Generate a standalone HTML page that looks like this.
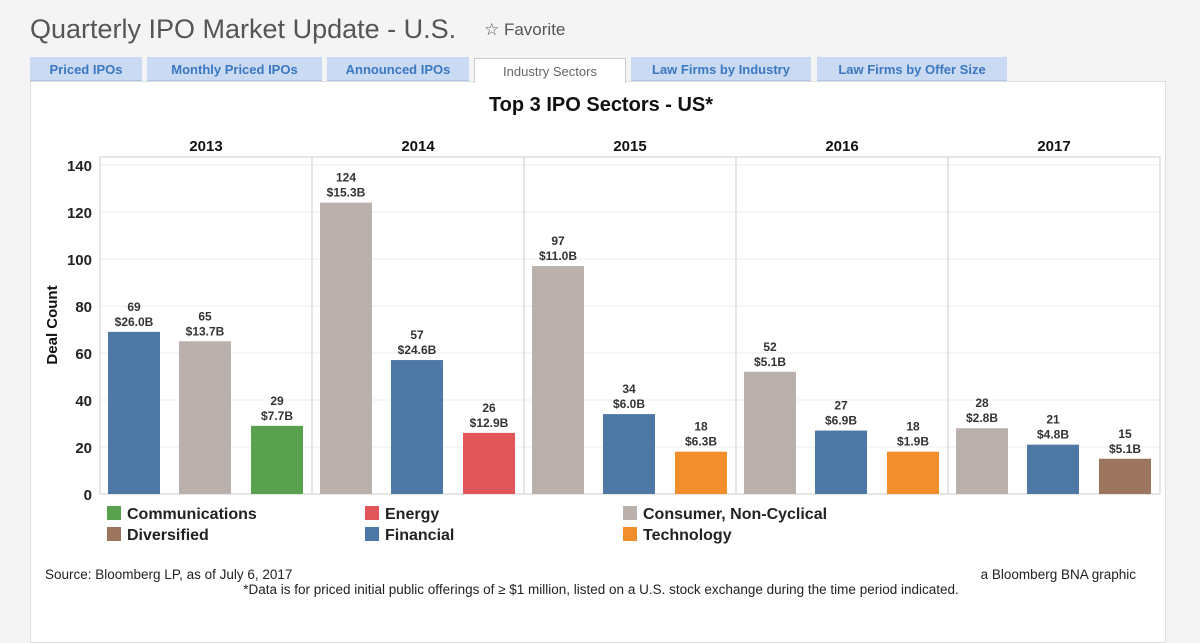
<!DOCTYPE html>
<html><head><meta charset="utf-8"><style>
body{margin:0;width:1200px;height:625px;background:#f4f4f4;font-family:"Liberation Sans",sans-serif;overflow:hidden;position:relative}
.title{position:absolute;left:30px;top:14px;font-size:27px;color:#555;font-weight:300}
.fav{position:absolute;left:484px;top:20px;font-size:17px;color:#555}
.tab{position:absolute;top:57px;height:23px;background:#c9daf2;color:#3a78c0;font-size:13px;font-weight:bold;text-align:center;line-height:25px;border-bottom:1px solid #aec6e8}
.tab.active{background:#fff;color:#666;font-weight:normal;border:1px solid #ccc;border-bottom:none;top:58px;height:24px}
.panel{position:absolute;left:30px;top:81px;width:1134px;height:560px;background:#fff;border:1px solid #ddd}
svg text{font-family:"Liberation Sans",sans-serif}
</style></head><body>
<div class="title">Quarterly IPO Market Update - U.S.</div>
<div class="fav">☆ Favorite</div>
<div class="tab" style="left:30px;width:112px">Priced IPOs</div>
<div class="tab" style="left:147px;width:175px">Monthly Priced IPOs</div>
<div class="tab" style="left:327px;width:142px">Announced IPOs</div>
<div class="tab" style="left:817px;width:190px">Law Firms by Offer Size</div>
<div class="tab" style="left:631px;width:180px">Law Firms by Industry</div>
<div class="panel"></div>
<div class="tab active" style="left:474px;width:150px">Industry Sectors</div>
<svg id="chart" width="1200" height="625" style="position:absolute;left:0;top:0"></svg>
<script>
const years=["2013","2014","2015","2016","2017"];
const sectors=[["Financial","Consumer","Communications"],["Consumer","Financial","Energy"],["Consumer","Financial","Technology"],["Consumer","Financial","Technology"],["Consumer","Financial","Diversified"]];
const counts=[[69,65,29],[124,57,26],[97,34,18],[52,27,18],[28,21,15]];
const amounts=[["$26.0B","$13.7B","$7.7B"],["$15.3B","$24.6B","$12.9B"],["$11.0B","$6.0B","$6.3B"],["$5.1B","$6.9B","$1.9B"],["$2.8B","$4.8B","$5.1B"]];
const yTicks=[0,20,40,60,80,100,120,140];
const colors={Financial:"#4e79a7",Consumer:"#bab0ac",Communications:"#59a14f",Energy:"#e15759",Technology:"#f28e2b",Diversified:"#9c755f"};
const NS="http://www.w3.org/2000/svg",svg=document.getElementById('chart');
const X0=100,PW=212,Y0=494,PPU=47/20,TOP=157;
const y=v=>Y0-v*PPU;
function el(t,a,txt){const e=document.createElementNS(NS,t);for(const k in a)e.setAttribute(k,a[k]);if(txt!==undefined)e.textContent=txt;svg.appendChild(e);return e;}
let t=el('text',{x:601,y:111,'text-anchor':'middle','font-size':20,'font-weight':'bold',fill:'#111'},'Top 3 IPO Sectors - US*');


yTicks.forEach(v=>{
 if(v>0){const g=el('line',{x1:X0,x2:X0+PW*5,y1:y(v),y2:y(v),stroke:'#eee'});
 
 }
 const l=el('text',{x:92,y:y(v)+6,'text-anchor':'end','font-size':15,'font-weight':'bold',fill:'#222'},v);
 
 
});
t=el('text',{transform:'translate(57,325) rotate(-90)','text-anchor':'middle','font-size':15,'font-weight':'bold',fill:'#111'},'Deal Count');


const offs=[8,79,151],BW=52;
years.forEach((yr,i)=>{
 const px=X0+PW*i;
 const r=el('rect',{x:px,y:TOP,width:PW,height:Y0-TOP,fill:'none',stroke:'#ccc'});
 
 
 const h=el('text',{x:px+PW/2,y:151,'text-anchor':'middle','font-size':15,'font-weight':'bold',fill:'#111'},yr);
 
 
 counts[i].forEach((c,j)=>{
  const bx=px+offs[j];
  const b=el('rect',{x:bx,y:y(c),width:BW,height:Y0-y(c),fill:colors[sectors[i][j]]});
  
  
  const a=el('text',{x:bx+BW/2,y:y(c)-21,'text-anchor':'middle','font-size':12,'font-weight':'bold',fill:'#333'},c);
  
  
  const d=el('text',{x:bx+BW/2,y:y(c)-6,'text-anchor':'middle','font-size':12,'font-weight':'bold',fill:'#333'},amounts[i][j]);
  
  
 });
});
const legend=[["Communications",107,513],["Energy",365,513],["Consumer, Non-Cyclical",623,513],["Diversified",107,534],["Financial",365,534],["Technology",623,534]];
const lkeys=["Communications","Energy","Consumer","Diversified","Financial","Technology"];
legend.forEach((l,k)=>{
 const s=el('rect',{x:l[1],y:l[2]-7,width:14,height:14,fill:colors[lkeys[k]]});
 
 
 const tx=el('text',{x:l[1]+20,y:l[2]+6,'font-size':16,'font-weight':'bold',fill:'#222'},l[0]);
 
 
});
t=el('text',{x:45,y:579,'font-size':13.5,fill:'#222'},'Source: Bloomberg LP, as of July 6, 2017');


t=el('text',{x:1136,y:579,'text-anchor':'end','font-size':13.5,fill:'#222'},'a Bloomberg BNA graphic');


t=el('text',{x:601,y:594,'text-anchor':'middle','font-size':13.5,fill:'#222'},'*Data is for priced initial public offerings of ≥ $1 million, listed on a U.S. stock exchange during the time period indicated.');


</script>
</body></html>
